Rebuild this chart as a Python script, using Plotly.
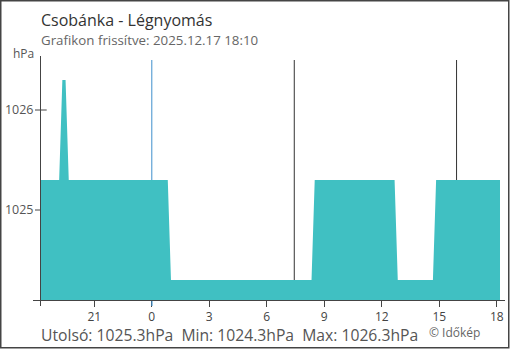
import pandas as pd
import plotly.graph_objects as go

# ---- data (10-minute readings, hPa) ----
start_time = "2025-12-16 18:10"
end_time = "2025-12-17 18:10"
times = pd.date_range(start_time, end_time, freq="10min")

pressure = [
    1025.3, 1025.3, 1025.3, 1025.3, 1025.3, 1025.3, 1025.3,          # 18:10-19:10
    1026.3, 1026.3,                                                  # 19:20-19:30
    1025.3, 1025.3, 1025.3, 1025.3, 1025.3, 1025.3, 1025.3, 1025.3,  # 19:40-
    1025.3, 1025.3, 1025.3, 1025.3, 1025.3, 1025.3, 1025.3, 1025.3,
    1025.3, 1025.3, 1025.3, 1025.3, 1025.3, 1025.3, 1025.3, 1025.3,
    1025.3, 1025.3, 1025.3, 1025.3, 1025.3, 1025.3, 1025.3, 1025.3,  # -00:50
    1024.3, 1024.3, 1024.3, 1024.3, 1024.3, 1024.3, 1024.3, 1024.3, 1024.3,  # 01:00-
    1024.3, 1024.3, 1024.3, 1024.3, 1024.3, 1024.3, 1024.3, 1024.3, 1024.3,
    1024.3, 1024.3, 1024.3, 1024.3, 1024.3, 1024.3, 1024.3, 1024.3, 1024.3,
    1024.3, 1024.3, 1024.3, 1024.3, 1024.3, 1024.3, 1024.3, 1024.3, 1024.3,
    1024.3, 1024.3, 1024.3, 1024.3, 1024.3, 1024.3, 1024.3, 1024.3, 1024.3,  # -08:20
    1025.3, 1025.3, 1025.3, 1025.3, 1025.3, 1025.3, 1025.3, 1025.3, 1025.3,  # 08:30-
    1025.3, 1025.3, 1025.3, 1025.3, 1025.3, 1025.3, 1025.3, 1025.3, 1025.3,
    1025.3, 1025.3, 1025.3, 1025.3, 1025.3, 1025.3, 1025.3, 1025.3,          # -12:40
    1024.3, 1024.3, 1024.3, 1024.3, 1024.3, 1024.3,                          # 12:50-
    1024.3, 1024.3, 1024.3, 1024.3, 1024.3, 1024.3,                          # -14:40
    1025.3, 1025.3, 1025.3, 1025.3, 1025.3, 1025.3, 1025.3,                  # 14:50-
    1025.3, 1025.3, 1025.3, 1025.3, 1025.3, 1025.3, 1025.3,
    1025.3, 1025.3, 1025.3, 1025.3, 1025.3, 1025.3, 1025.3,                  # -18:10
]

x_tick_vals = ["2025-12-16 21:00", "2025-12-17 00:00", "2025-12-17 03:00",
               "2025-12-17 06:00", "2025-12-17 09:00", "2025-12-17 12:00",
               "2025-12-17 15:00", "2025-12-17 18:00"]
x_tick_text = ["21", "0", "3", "6", "9", "12", "15", "18"]
y_tick_vals = [1025, 1026]
y_range = [1024.1, 1026.5]

midnight = "2025-12-17 00:00"
sunrise = "2025-12-17 07:26"
sunset = "2025-12-17 15:54"

title = "Csobánka - Légnyomás"
subtitle = "Grafikon frissítve: 2025.12.17 18:10"
unit = "hPa"
summary = "Utolsó: 1025.3hPa  Min: 1024.3hPa  Max: 1026.3hPa"
credit = "© Időkép"

# ---- layout helpers (pixel -> paper) ----
W, H = 510, 350
L, R, T, B = 40, 10, 60, 50
PW, PH = W - L - R, H - T - B


def px(x):
    return (x - L) / PW


def py(y):
    return (H - B - y) / PH


FONT = "Open Sans"
AX = "#444444"
FILL = "#40c0c2"

fig = go.Figure()
fig.add_trace(go.Scatter(
    x=times, y=pressure, mode="lines",
    line=dict(width=0, color=FILL),
    fill="tozeroy", fillcolor=FILL,
    hoverinfo="skip", showlegend=False,
))

shapes = [
    # night/day marker lines (below the area)
    dict(type="line", xref="x", yref="paper", x0=midnight, x1=midnight,
         y0=py(306), y1=1, line=dict(color="#3f8fcc", width=1), layer="below"),
    dict(type="line", xref="x", yref="paper", x0=sunrise, x1=sunrise,
         y0=0, y1=1, line=dict(color="#333333", width=1), layer="below"),
    dict(type="line", xref="x", yref="paper", x0=sunset, x1=sunset,
         y0=0, y1=1, line=dict(color="#333333", width=1), layer="below"),
    dict(type="line", xref="x", yref="paper", x0=midnight, x1=midnight,
         y0=py(306), y1=py(300.5), line=dict(color="#3f8fcc", width=1), layer="above"),
    # extended axis lines
    dict(type="line", xref="paper", yref="paper", x0=px(33), x1=px(505),
         y0=py(300.5), y1=py(300.5), line=dict(color=AX, width=1), layer="above"),
    dict(type="line", xref="paper", yref="paper", x0=px(40.5), x1=px(40.5),
         y0=py(306), y1=py(56), line=dict(color=AX, width=1), layer="above"),
    # outer frame
    dict(type="rect", xref="paper", yref="paper", x0=px(0.75), x1=px(508.75),
         y0=py(347.75), y1=py(0.75), line=dict(color=AX, width=1.5)),
]
# y ticks crossing the axis (inner part hidden by the area where it covers them)
for v in y_tick_vals:
    shapes.append(dict(type="line", xref="paper", yref="y", x0=px(35), x1=px(46.7),
                       y0=v, y1=v, line=dict(color=AX, width=1), layer="below"))

annotations = [
    dict(text=title, x=px(40), y=py(19.5), xanchor="left", yanchor="middle",
         font=dict(family=FONT, size=16, color="#333333")),
    dict(text=subtitle, x=px(40), y=py(40.5), xanchor="left", yanchor="middle",
         font=dict(family=FONT, size=13.3, color="#666666")),
    dict(text=unit, x=px(35), y=py(53), xanchor="right", yanchor="middle",
         font=dict(family=FONT, size=12, color="#555555")),
    dict(text=summary, x=px(40), y=py(334.5), xanchor="left", yanchor="middle",
         font=dict(family=FONT, size=15.7, color="#555555")),
    dict(text=credit, x=px(427.5), y=py(332.5), xanchor="left", yanchor="middle",
         font=dict(family=FONT, size=12, color="#666666")),
]
for a in annotations:
    a.update(xref="paper", yref="paper", showarrow=False, borderpad=0)

fig.update_layout(
    width=W, height=H,
    margin=dict(l=L, r=R, t=T, b=B, autoexpand=False),
    paper_bgcolor="white", plot_bgcolor="white",
    xaxis=dict(range=[start_time, end_time], tickvals=x_tick_vals, ticktext=x_tick_text,
               ticks="outside", ticklen=6, tickcolor=AX, tickwidth=1,
               showline=False, showgrid=False, zeroline=False, automargin=False,
               tickfont=dict(family=FONT, size=12, color="#444444")),
    yaxis=dict(range=y_range, tickvals=y_tick_vals,
               ticks="outside", ticklen=3, tickcolor="rgba(0,0,0,0)", tickwidth=1,
               showline=False, showgrid=False, zeroline=False, automargin=False,
               tickfont=dict(family=FONT, size=12.5, color="#555555")),
    shapes=shapes, annotations=annotations,
    showlegend=False,
)

fig.write_html("out.html")
